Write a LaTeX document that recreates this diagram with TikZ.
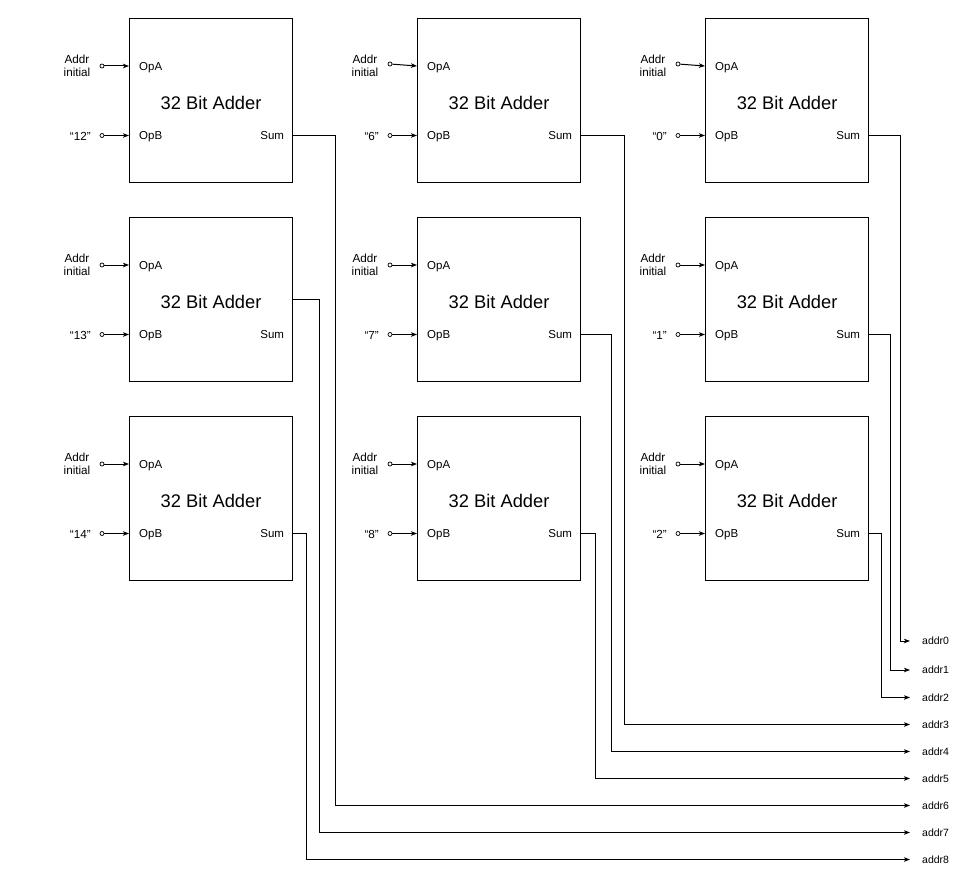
\documentclass[tikz,border=0pt]{standalone}
\usepackage{fontspec}
\setmainfont{Liberation Sans}
\usetikzlibrary{arrows.meta,calc}

\begin{document}
\begin{tikzpicture}[x=1pt,y=-1pt,
  adder/.style={draw, line width=1.2pt, minimum width=163pt, minimum height=164pt,
    inner sep=0pt, anchor=north west},
  title/.style={font=\fontsize{18.3}{20}\selectfont, inner sep=0pt},
  portlabel/.style={font=\fontsize{11.5}{13}\selectfont, inner sep=0pt},
  srclabel/.style={font=\fontsize{11.7}{13}\selectfont, inner sep=0pt, align=center},
  outlabel/.style={font=\fontsize{10.5}{12}\selectfont, inner sep=0pt, anchor=base west},
  terminal/.style={circle, draw, line width=0.7pt, minimum size=4pt, inner sep=0pt},
  feed/.style={line width=1pt, -{Stealth[length=6pt,width=4.5pt,inset=1.5pt]}},
  bus/.style={line width=1pt, -{Stealth[length=6pt,width=4.5pt,inset=1.5pt]}}
]
\useasboundingbox (0,0) rectangle (959,875);

% column / row / constant / slope of OpA feed / sum tap offset / bus x / result y / result index
\foreach \c/\r/\v/\sl/\oy/\bx/\ay/\k in {
    0/0/12/0/117/335/805.5/6,
    0/1/13/0/82/319/832.5/7,
    0/2/14/0/117/306/859.5/8,
    1/0/6/2/117/624/724.5/3,
    1/1/7/0/117/611/751.5/4,
    1/2/8/0/117/595/778.5/5,
    2/0/0/2/117/900/641/0,
    2/1/1/0/117/890/670/1,
    2/2/2/0/117/881/697.5/2}{
  % adder block
  \node[adder] (add\c\r) at (129+288*\c, 18+199*\r) {};
  \node[title] (ttl\c\r) at ($(add\c\r.center)+(0,2)$) {32 Bit Adder};
  % ports
  \coordinate (pa\c\r) at ($(add\c\r.north west)+(0,48)$);
  \coordinate (pb\c\r) at ($(add\c\r.north west)+(0,117.5)$);
  \coordinate (s\c\r) at ($(add\c\r.north east)+(0,\oy)$);
  \node[portlabel, anchor=base west] (la\c\r) at ($(pa\c\r)+(10,4.3)$) {OpA};
  \node[portlabel, anchor=base west] (lb\c\r) at ($(pb\c\r)+(10,4.3)$) {OpB};
  \node[portlabel, anchor=base east] (ls\c\r) at ($(add\c\r.north east)+(-9,121.8)$) {Sum};
  % input terminals
  \node[terminal] (ia\c\r) at (102+288*\c, 66-\sl+199*\r) {};
  \node[terminal] (ib\c\r) at (102+288*\c, 135.5+199*\r) {};
  \node[srclabel] (na\c\r) at (77+288*\c, 65.5+199*\r) {Addr\\initial};
  \node[srclabel, anchor=base east] (nb\c\r) at (91+288*\c, 140+199*\r) {“\v”};
  \draw[feed] (ia\c\r) -- (pa\c\r);
  \draw[feed] (ib\c\r) -- (pb\c\r);
  % result bus
  \coordinate (t\k) at (910,\ay);
  \node[outlabel] (addr\k) at (922,\ay+3.9) {addr\k};
  \draw[bus] (s\c\r) -| (\bx,\ay) -- (t\k);
}
\end{tikzpicture}
\end{document}
